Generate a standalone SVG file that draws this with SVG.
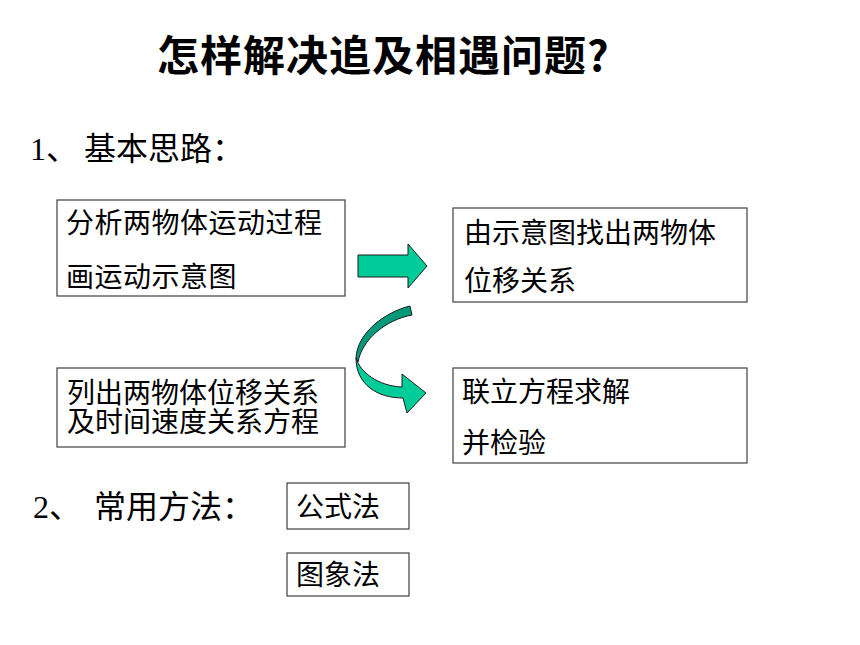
<svg xmlns="http://www.w3.org/2000/svg" width="860" height="645" viewBox="0 0 860 645">
<style>
.bg{fill:#ffffff}
.box{fill:#ffffff;stroke:#404040;stroke-width:1.2}
.t{font-family:"Noto Sans CJK SC","Liberation Sans",sans-serif;font-size:28px;fill:#000}
.title{font-family:"Noto Sans CJK SC","Liberation Sans",sans-serif;font-size:42px;font-weight:bold;letter-spacing:1px;fill:#000}
.h{font-family:"Liberation Serif","Noto Sans CJK SC",serif;font-size:32px;fill:#000}
.arrow{fill:#00cc99;stroke:#1a1a1a;stroke-width:1}
.arrowdark{fill:#00997a;stroke:#1a1a1a;stroke-width:1}
</style>
<rect class="bg" x="0" y="0" width="860" height="645"/>
<g id="title"><text class="title" x="157" y="71">怎样解决追及相遇问题?</text></g>
<g id="heading1"><text class="h" y="160"><tspan x="30">1、</tspan><tspan x="84">基本思路：</tspan></text></g>
<g id="heading2"><text class="h" y="518"><tspan x="33">2、</tspan><tspan x="94">常用方法：</tspan></text></g>
<g id="node1">
<rect class="box" x="57" y="200" width="288" height="96"/>
<text class="t" x="66" y="233" letter-spacing="0.5">分析两物体运动过程</text>
<text class="t" x="66" y="287" letter-spacing="0.5">画运动示意图</text>
</g>
<g id="node2">
<rect class="box" x="453" y="208" width="294" height="94"/>
<text class="t" x="464" y="243">由示意图找出两物体</text>
<text class="t" x="464" y="291">位移关系</text>
</g>
<g id="node3">
<rect class="box" x="57" y="368" width="288" height="79"/>
<text class="t" x="67" y="403">列出两物体位移关系</text>
<text class="t" x="67" y="432">及时间速度关系方程</text>
</g>
<g id="node4">
<rect class="box" x="453" y="368" width="294" height="95"/>
<text class="t" x="462" y="402">联立方程求解</text>
<text class="t" x="462" y="453">并检验</text>
</g>
<g id="node5">
<rect class="box" x="287" y="483" width="122" height="46"/>
<text class="t" x="296" y="517">公式法</text>
</g>
<g id="node6">
<rect class="box" x="287" y="553" width="122" height="43"/>
<text class="t" x="296" y="585">图象法</text>
</g>
<g id="connectors">
<path class="arrow" d="M358,255 L408,255 L408,244 L427,266 L408,288 L408,277 L358,277 Z"/>
<path class="arrowdark" d="M410,306 C385,312 357,333 356,358 L358,362 C362,340 385,320 412,315 Z"/>
<path class="arrow" d="M356,358 C360,372 378,386 402,387 L402,374 L426,393 L407,413 L403,398 C378,398 356,385 356,358 Z"/>
</g>
</svg>
